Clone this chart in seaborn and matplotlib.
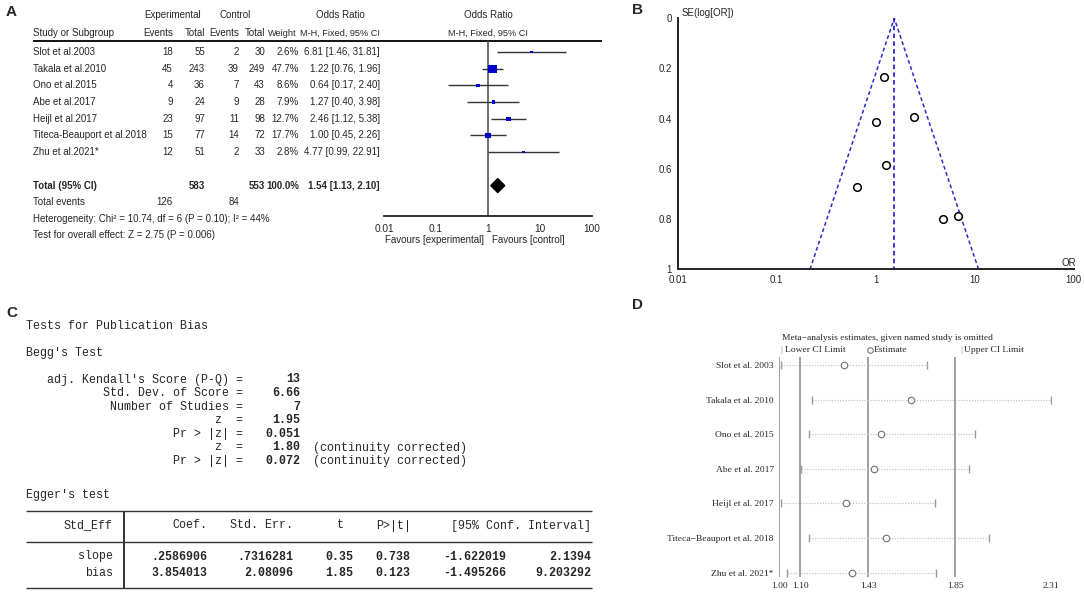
import numpy as np
import seaborn as sns
import matplotlib.pyplot as plt
from matplotlib.patches import Polygon
from matplotlib.ticker import NullLocator

# ---- panel A: forest plot data ----
studies = ['Slot et al.2003', 'Takala et al.2010', 'Ono et al.2015', 'Abe et al.2017',
           'Heijl et al.2017', 'Titeca-Beauport et al.2018', 'Zhu et al.2021*']
exp_events = [18, 45, 4, 9, 23, 15, 12]
exp_total = [55, 243, 36, 24, 97, 77, 51]
ctl_events = [2, 39, 7, 9, 11, 14, 2]
ctl_total = [30, 249, 43, 28, 98, 72, 33]
weights = [2.6, 47.7, 8.6, 7.9, 12.7, 17.7, 2.8]
odds = [6.81, 1.22, 0.64, 1.27, 2.46, 1.00, 4.77]
ci_low = [1.46, 0.76, 0.17, 0.40, 1.12, 0.45, 0.99]
ci_high = [31.81, 1.96, 2.40, 3.98, 5.38, 2.26, 22.91]
total_or, total_low, total_high = 1.54, 1.13, 2.10
forest_ticks = [0.01, 0.1, 1, 10, 100]

# ---- panel B: funnel plot ----
se_log_or = [0.786, 0.235, 0.672, 0.583, 0.394, 0.412, 0.80]
funnel_yticks = [0, 0.2, 0.4, 0.6, 0.8, 1]

# ---- panel C: publication bias tests ----
begg_labels = ["adj. Kendall's Score (P-Q) =", "Std. Dev. of Score =", "Number of Studies =",
               "z  =", "Pr > |z| =", "z  =", "Pr > |z| ="]
begg_values = ['13', '6.66', '7', '1.95', '0.051', '1.80', '0.072']
begg_notes = ['', '', '', '', '', '(continuity corrected)', '(continuity corrected)']
egger_header = ['Std_Eff', 'Coef.', 'Std. Err.', 't', 'P>|t|', '[95% Conf. Interval]']
egger_rows = ['slope', 'bias']
egger_coef = ['.2586906', '3.854013']
egger_se = ['.7316281', '2.08096']
egger_t = ['0.35', '1.85']
egger_p = ['0.738', '0.123']
egger_lo = ['-1.622019', '-1.495266']
egger_hi = ['2.1394', '9.203292']

# ---- panel D: leave-one-out sensitivity ----
sens_labels = ['Slot et al. 2003', 'Takala et al. 2010', 'Ono et al. 2015', 'Abe et al. 2017',
               'Heijl et al. 2017', 'Titeca\u2212Beauport et al. 2018', 'Zhu et al. 2021*']
sens_est = [1.314, 1.636, 1.489, 1.455, 1.322, 1.515, 1.351]
sens_low = [1.008, 1.156, 1.143, 1.106, 1.007, 1.143, 1.036]
sens_high = [1.711, 2.31, 1.945, 1.916, 1.751, 2.011, 1.756]
sens_ticks = [1.00, 1.10, 1.43, 1.85, 2.31]

sns.set_style('white')
SANS = ['Liberation Sans', 'DejaVu Sans']
SERIF = ['Liberation Serif', 'DejaVu Serif']
MONO = ['Liberation Mono', 'DejaVu Sans Mono']
plt.rcParams['font.family'] = SANS

W, H = 1084, 596
fig = plt.figure(figsize=(W / 100, H / 100), dpi=100)


def px_axes(x0, y0, x1, y1):
    ax = fig.add_axes([x0 / W, 1 - y1 / H, (x1 - x0) / W, (y1 - y0) / H])
    ax.patch.set_alpha(0)
    return ax


# overlay in pixel coordinates for all the text
ov = px_axes(0, 0, W, H)
ov.set_xlim(0, W)
ov.set_ylim(H, 0)
ov.axis('off')


def put(x, y, s, ha='left', **kw):
    ov.text(x, y, s, ha=ha, va='center', **kw)


for lab, x, y in [('A', 6, 12), ('B', 632, 10), ('C', 6, 313), ('D', 632, 305)]:
    put(x, y, lab, fontsize=11, fontweight='bold')

# ---------------- panel A table ----------------
fsA = 7.0
fsH = 6.6
put(173, 15, 'Experimental', ha='center', fontsize=fsA)
put(235, 15, 'Control', ha='center', fontsize=fsA)
put(340, 15, 'Odds Ratio', ha='center', fontsize=fsA)
put(488, 15, 'Odds Ratio', ha='center', fontsize=fsA)
cols = [173, 205, 239, 265, 299]
put(33, 33, 'Study or Subgroup', fontsize=fsA)
for x, h in zip(cols[:-1], ['Events', 'Total', 'Events', 'Total']):
    put(x, 33, h, ha='right', fontsize=fsA)
put(297, 33, 'Weight', ha='right', fontsize=fsH)
put(380, 33, 'M-H, Fixed, 95% CI', ha='right', fontsize=fsH)
put(488, 33, 'M-H, Fixed, 95% CI', ha='center', fontsize=fsH)
ov.hlines(41, 33, 602, color='black', lw=1.3)

row0, dy = 52, 16.7
for i, name in enumerate(studies):
    y = row0 + dy * i
    put(33, y, name, fontsize=fsA)
    vals = [exp_events[i], exp_total[i], ctl_events[i], ctl_total[i], f'{weights[i]:.1f}%']
    for x, v in zip(cols, vals):
        put(x, y, str(v), ha='right', fontsize=fsA)
    put(380, y, f'{odds[i]:.2f} [{ci_low[i]:.2f}, {ci_high[i]:.2f}]', ha='right', fontsize=fsA)

yt = row0 + dy * 8
put(33, yt, 'Total (95% CI)', fontsize=fsA, fontweight='bold')
put(205, yt, str(sum(exp_total)), ha='right', fontsize=fsA, fontweight='bold')
put(265, yt, str(sum(ctl_total)), ha='right', fontsize=fsA, fontweight='bold')
put(299, yt, '100.0%', ha='right', fontsize=fsA, fontweight='bold')
put(380, yt, f'{total_or:.2f} [{total_low:.2f}, {total_high:.2f}]', ha='right',
    fontsize=fsA, fontweight='bold')
put(33, yt + 16.5, 'Total events', fontsize=fsA)
put(173, yt + 16.5, str(sum(exp_events)), ha='right', fontsize=fsA)
put(239, yt + 16.5, str(sum(ctl_events)), ha='right', fontsize=fsA)
put(33, yt + 33, 'Heterogeneity: Chi\u00b2 = 10.74, df = 6 (P = 0.10); I\u00b2 = 44%', fontsize=fsA)
put(33, yt + 49.5, 'Test for overall effect: Z = 2.75 (P = 0.006)', fontsize=fsA)
put(484, 240, 'Favours [experimental]', ha='right', fontsize=fsA)
put(492, 240, 'Favours [control]', fontsize=fsA)

# forest plot axes
axA = px_axes(384, 41, 592, 216)
rows = np.arange(len(studies))
axA.set_xscale('log')
axA.set_xlim(0.01, 100)
axA.set_ylim((216 - row0) / dy, (41 - row0) / dy)
axA.axvline(1, color='#555555', lw=1.2, zorder=1)
axA.hlines(rows, ci_low, ci_high, color='#333333', lw=1.0, zorder=2)
sns.scatterplot(x=odds, y=rows, size=weights, sizes=(3, 36), marker='s', color='#0000cc',
                edgecolor='none', legend=False, ax=axA, zorder=3)
axA.add_patch(Polygon([(total_low, 8), (total_or, 8 - 0.42), (total_high, 8), (total_or, 8 + 0.42)],
                      closed=True, color='black', zorder=3))
for s in ['top', 'left', 'right']:
    axA.spines[s].set_visible(False)
axA.spines['bottom'].set_linewidth(1.3)
axA.spines['bottom'].set_color('#222222')
axA.set_xticks(forest_ticks, ['0.01', '0.1', '1', '10', '100'])
axA.xaxis.set_minor_locator(NullLocator())
axA.set_yticks([])
axA.tick_params(axis='x', direction='inout', length=9, width=1.1, labelsize=fsA + 0.3, pad=1)

# ---------------- panel B funnel ----------------
axB = px_axes(677.7, 18.3, 1073.7, 269.3)
axB.set_xscale('log')
axB.set_xlim(0.01, 100)
axB.set_ylim(1, 0)
se_max = 1.0
lo_edge = total_or * np.exp(-1.96 * se_max)
hi_edge = total_or * np.exp(1.96 * se_max)
axB.plot([lo_edge, total_or, hi_edge], [se_max, 0, se_max], ls=(0, (2.5, 1.8)), color='#2b2bc8', lw=1.1)
axB.plot([total_or, total_or], [0, se_max], ls=(0, (2.5, 1.8)), color='#2b2bc8', lw=1.3)
sns.scatterplot(x=odds, y=se_log_or, marker='o', s=30, facecolor='white', edgecolor='black',
                linewidth=1.1, ax=axB, zorder=4)
sns.despine(ax=axB)
for s in ['left', 'bottom']:
    axB.spines[s].set_linewidth(1.4)
    axB.spines[s].set_color('#222222')
axB.set_xticks(forest_ticks, ['0.01', '0.1', '1', '10', '100'])
axB.xaxis.set_minor_locator(NullLocator())
axB.set_yticks(funnel_yticks, ['0', '0.2', '0.4', '0.6', '0.8', '1'])
axB.tick_params(direction='inout', length=8, width=1.2, labelsize=7, pad=0)
put(682, 13, 'SE(log[OR])', fontsize=7)
put(1062, 263, 'OR', fontsize=7)

# ---------------- panel C text ----------------
fsC = 8.4
put(26, 326, 'Tests for Publication Bias', fontsize=fsC, family=MONO)
put(26, 353, "Begg's Test", fontsize=fsC, family=MONO)
for i, (lab, val, note) in enumerate(zip(begg_labels, begg_values, begg_notes)):
    y = 379.5 + 13.6 * i
    put(243, y, lab, ha='right', fontsize=fsC, family=MONO)
    put(300, y, val, ha='right', fontsize=fsC, family=MONO, fontweight='bold')
    if note:
        put(313, y, note, fontsize=fsC, family=MONO)

put(26, 495, "Egger's test", fontsize=fsC, family=MONO)
ov.hlines([510.5, 542, 588], 26, 592, color='#333333', lw=1.0)
ov.vlines(124, 510.5, 588, color='#333333', lw=1.4)
hdr_x = [112.7, 207.7, 293.5, 343.5, 410.8, 591]
for x, h in zip(hdr_x, egger_header):
    put(x, 525.5, h, ha='right', fontsize=fsC, family=MONO)
val_x = [207.7, 293.5, 353, 410.8, 505.8, 591]
for j, name in enumerate(egger_rows):
    y = 556.5 + 16.2 * j
    put(112.7, y, name, ha='right', fontsize=fsC, family=MONO)
    vals = [egger_coef[j], egger_se[j], egger_t[j], egger_p[j], egger_lo[j], egger_hi[j]]
    for x, v in zip(val_x, vals):
        put(x, y, v, ha='right', fontsize=fsC, family=MONO, fontweight='bold')

# ---------------- panel D sensitivity ----------------
fsD = 6.8
put(781.7, 337.5, 'Meta\u2212analysis estimates, given named study is omitted', fontsize=fsD, family=SERIF)
put(780.5, 349.5, '|', fontsize=fsD, family=SERIF, color='#888888')
put(785, 349.5, 'Lower CI Limit', fontsize=fsD, family=SERIF)
ov.plot([870], [349.5], marker='o', ms=4, mfc='white', mec='#666666', mew=0.7)
put(873.5, 349.5, 'Estimate', fontsize=fsD, family=SERIF)
put(960, 349.5, '|', fontsize=fsD, family=SERIF, color='#888888')
put(964.5, 349.5, 'Upper CI Limit', fontsize=fsD, family=SERIF)

axD = px_axes(779.3, 357, 1050.7, 576.7)
rD = np.arange(len(sens_labels))
axD.set_xlim(1.00, 2.31)
axD.set_ylim((576.7 - 365) / 34.6, (357 - 365) / 34.6)
for v in sens_ticks[:-1]:
    axD.axvline(v, color='#a0a0a0', lw=1.4, zorder=1)
axD.hlines(rD, sens_low, sens_high, color='#c4c4c4', linestyles=(0, (1, 1.2)), lw=0.9, zorder=2)
axD.scatter(sens_low, rD, marker='|', s=28, color='#9a9a9a', lw=1.0, zorder=3)
axD.scatter(sens_high, rD, marker='|', s=28, color='#9a9a9a', lw=1.0, zorder=3)
sns.scatterplot(x=sens_est, y=rD, marker='o', s=22, facecolor='white', edgecolor='#707070',
                linewidth=0.8, ax=axD, zorder=4)
for s in axD.spines.values():
    s.set_visible(False)
axD.set_xticks(sens_ticks, [f'{v:.2f}' for v in sens_ticks])
axD.set_yticks(rD, sens_labels)
axD.tick_params(length=0, labelsize=fsD, pad=4)
for t in axD.get_xticklabels() + axD.get_yticklabels():
    t.set_family(SERIF)

fig.savefig('out.png', dpi=100)
